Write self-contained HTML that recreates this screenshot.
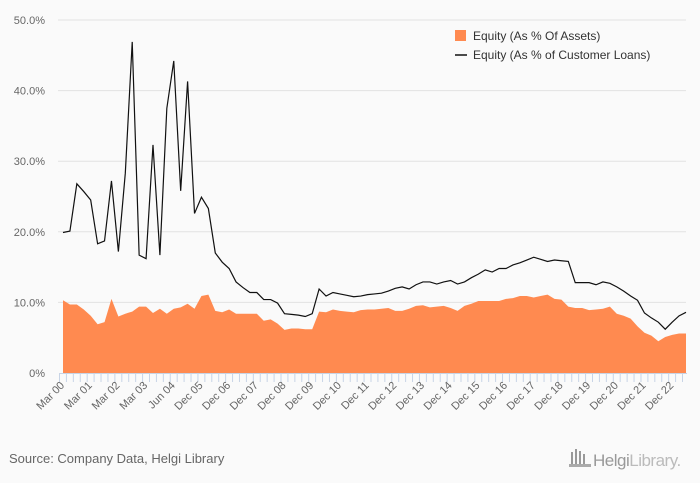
<!DOCTYPE html>
<html><head><meta charset="utf-8"><style>
html,body{margin:0;padding:0;background:#fafafa;}
svg{display:block;font-family:"Liberation Sans","DejaVu Sans",sans-serif;}
</style></head><body>
<svg id="chart" width="700" height="483" viewBox="0 0 700 483" xmlns="http://www.w3.org/2000/svg">
<rect x="0" y="0" width="700" height="483" fill="#fafafa"/>
<g id="grid"></g>
<g id="yaxis"></g>
<g id="series"></g>
<g id="xaxis"></g>
<g>
  <g>
    <rect x="455" y="30" width="11" height="11" fill="#ff8a50"/>
    <text x="473" y="40" font-size="12" fill="#333">Equity (As % Of Assets)</text>
  </g>
  <g>
    <line x1="455" y1="55" x2="467" y2="55" stroke="#111" stroke-width="1.5"/>
    <text x="473" y="59" font-size="12" fill="#333">Equity (As % of Customer Loans)</text>
  </g>
</g>
<text x="9" y="463" font-size="13" fill="#666">Source: Company Data, Helgi Library</text>
<g>
  <rect x="571" y="452" width="2" height="12" fill="#999"/><rect x="575" y="449" width="2" height="15" fill="#999"/><rect x="579" y="451" width="2" height="13" fill="#999"/><rect x="583" y="454" width="2" height="10" fill="#999"/><rect x="569" y="464" width="22" height="3" fill="#aaa"/>
  <text x="593" y="466" font-size="17" fill="#999" letter-spacing="-0.5">Helgi<tspan fill="#bbb">Library.</tspan></text>
</g>
</svg>
<script>
const categories = ["Mar 00","Mar 01","Mar 02","Mar 03","Jun 04","Dec 05","Dec 06","Dec 07","Dec 08","Dec 09","Dec 10","Dec 11","Dec 12","Dec 13","Dec 14","Dec 15","Dec 16","Dec 17","Dec 18","Dec 19","Dec 20","Dec 21","Dec 22"];
const assetsPct = [10.3,9.7,9.7,9.0,8.1,6.9,7.2,10.5,8.0,8.4,8.7,9.4,9.4,8.5,9.1,8.4,9.1,9.3,9.8,9.1,10.9,11.1,8.8,8.6,9.0,8.4,8.4,8.4,8.4,7.4,7.6,7.0,6.1,6.3,6.3,6.2,6.2,8.7,8.6,9.0,8.8,8.7,8.6,8.9,9.0,9.0,9.1,9.2,8.8,8.8,9.1,9.5,9.6,9.3,9.4,9.5,9.2,8.8,9.5,9.8,10.2,10.2,10.2,10.2,10.5,10.6,10.9,10.9,10.7,10.9,11.1,10.5,10.4,9.4,9.2,9.2,8.9,9.0,9.1,9.4,8.4,8.1,7.7,6.6,5.7,5.3,4.5,5.1,5.4,5.6,5.6];
const loansPct = [19.9,20.1,26.8,25.7,24.5,18.3,18.7,27.2,17.2,28.3,46.9,16.7,16.2,32.3,16.7,37.5,44.2,25.8,41.3,22.6,24.9,23.3,17.0,15.7,14.8,12.9,12.1,11.4,11.4,10.4,10.4,9.9,8.4,8.3,8.2,8.0,8.4,11.9,10.9,11.4,11.2,11.0,10.8,10.9,11.1,11.2,11.3,11.6,12.0,12.2,11.9,12.5,12.9,12.9,12.6,12.9,13.1,12.6,12.9,13.5,14.0,14.6,14.3,14.8,14.8,15.3,15.6,16.0,16.4,16.1,15.8,16.0,15.9,15.8,12.8,12.8,12.8,12.5,12.9,12.7,12.2,11.6,10.9,10.3,8.5,7.8,7.2,6.2,7.2,8.1,8.6];
const yTicks = [0,10,20,30,40,50];
const yTickLabels = ["0%","10.0%","20.0%","30.0%","40.0%","50.0%"];

const NS="http://www.w3.org/2000/svg";
const X0=63, X1=686, Y0=373, Y1=20, YMAX=50;
const n = assetsPct.length;
function xs(i){return X0+(X1-X0)*i/(n-1);}
function ys(v){return Y0-(Y0-Y1)*v/YMAX;}
function mk(tag,attrs,parent){const e=document.createElementNS(NS,tag);for(const k in attrs)e.setAttribute(k,attrs[k]);parent.appendChild(e);return e;}

const grid=document.getElementById('grid'), yaxis=document.getElementById('yaxis');
yTicks.forEach((v,i)=>{
  if(v>0){const g=mk('line',{x1:58,x2:686,y1:ys(v),y2:ys(v),stroke:'#e2e2e2','stroke-width':1},grid);
  
  }
  const t=mk('text',{x:45,y:ys(v)+4,'text-anchor':'end','font-size':11,fill:'#666'},yaxis);
  
  
  t.textContent=yTickLabels[i];
});

const series=document.getElementById('series');
let d='M'+xs(0)+','+ys(0);
assetsPct.forEach((v,i)=>{d+=' L'+xs(i).toFixed(2)+','+ys(v).toFixed(2);});
d+=' L'+xs(n-1)+','+ys(0)+' Z';
const area=mk('path',{d:d,fill:'#ff8a50'},series);


let p='';
loansPct.forEach((v,i)=>{p+=(i?' L':'M')+xs(i).toFixed(2)+','+ys(v).toFixed(2);});
const line=mk('path',{d:p,fill:'none',stroke:'#111','stroke-width':1.2},series);



const xaxis=document.getElementById('xaxis');
const ax=mk('line',{x1:59,x2:687,y1:373.5,y2:373.5,stroke:'#c8d4e6'},xaxis);


for(let i=0;i<n;i++){
  const tx=xs(i)-3.5;
  const tk=mk('line',{x1:tx,x2:tx,y1:373,y2:382,stroke:'#c8d4e6'},xaxis);
  
  
}
categories.forEach((c,k)=>{
  const x=xs(k*4)+2, y=386;
  const t=mk('text',{x:x,y:y,'text-anchor':'end','font-size':11,fill:'#666',transform:'rotate(-45 '+x+' '+y+')'},xaxis);
  
  
  t.textContent=c;
});
</script>
</body></html>
